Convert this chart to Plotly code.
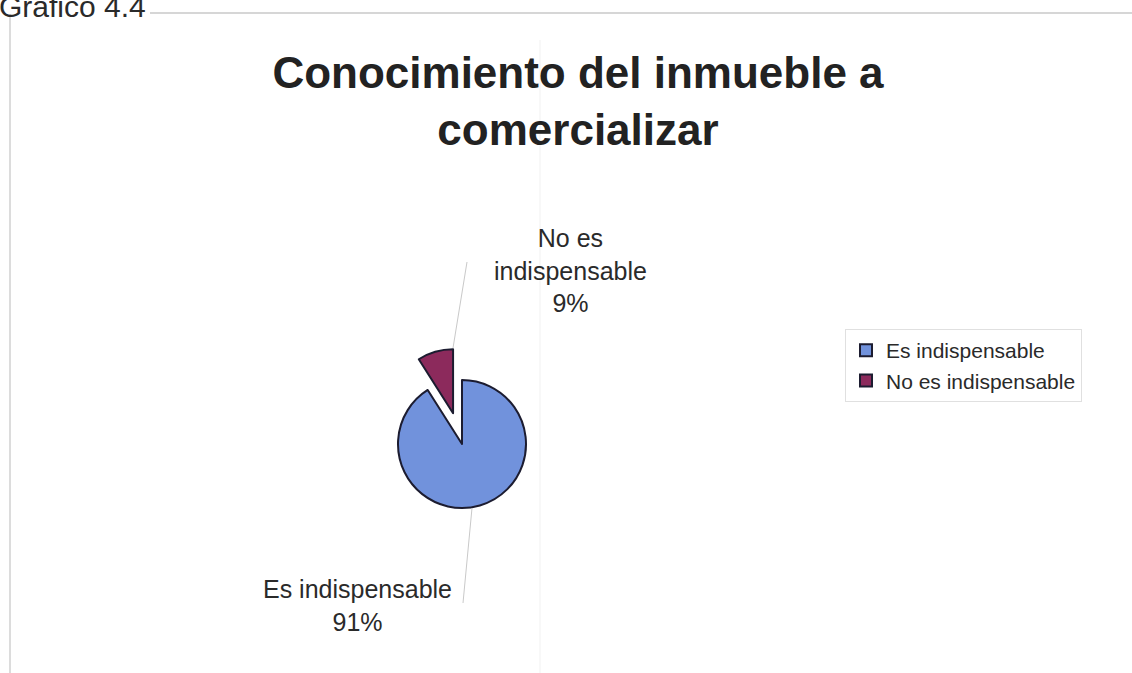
import textwrap
import plotly.graph_objects as go

# Survey result: knowledge of the property being marketed
labels = ["Es indispensable", "No es indispensable"]
values = [91, 9]
colors = ["#7192DC", "#8C2A5C"]
pulls = [0, 0.5]

title_lines = ["Conocimiento del inmueble a", "comercializar"]
caption = "Gráfico 4.4"

W, H = 1132, 673
FONT = "Liberation Sans, Arial, sans-serif"


def px(x):
    return x / W


def py(y):
    return 1 - y / H


fig = go.Figure()

# pie centred at (462, 444) px, radius 64 px; pull 0.5 -> domain half-size 96 px
cx, cy, half = 462, 444, 96
fig.add_trace(go.Pie(
    labels=labels,
    values=values,
    sort=False,
    direction="clockwise",
    rotation=0,
    pull=pulls,
    marker=dict(colors=colors, line=dict(color="#1c1c30", width=2)),
    textinfo="none",
    hoverinfo="label+percent",
    domain=dict(x=[px(cx - half), px(cx + half)], y=[py(cy + half), py(cy - half)]),
))

# slice labels with the percentage of each value
total = sum(values)
label_pos = [(357, 605), (570, 270)]
for lab, val, (lx, ly) in zip(labels, values, label_pos):
    txt = "<br>".join(textwrap.wrap(lab, 16)) + f"<br>{round(100 * val / total)}%"
    fig.add_annotation(
        x=px(lx), y=py(ly), xref="paper", yref="paper",
        text=txt, showarrow=False, xanchor="center", yanchor="middle",
        font=dict(family=FONT, size=25, color="#2a2a2a"),
    )

# leader lines from labels to slices
leaders = [((463, 603), (472, 508)), ((467, 262), (453, 348))]
for (x0, y0), (x1, y1) in leaders:
    fig.add_shape(type="line", xref="paper", yref="paper",
                  x0=px(x0), y0=py(y0), x1=px(x1), y1=py(y1),
                  line=dict(color="#c9c9c9", width=1))

# page frame lines
fig.add_shape(type="line", xref="paper", yref="paper",
              x0=px(150), y0=py(13), x1=px(W), y1=py(13),
              line=dict(color="#d6d6d6", width=2))
fig.add_shape(type="line", xref="paper", yref="paper",
              x0=px(10), y0=py(14), x1=px(10), y1=py(H),
              line=dict(color="#dcdcdc", width=2))
fig.add_shape(type="line", xref="paper", yref="paper",
              x0=px(540), y0=py(40), x1=px(540), y1=py(H),
              line=dict(color="#f1f1f1", width=1))

# caption at the top-left corner
fig.add_annotation(
    x=px(-3), y=py(25), xref="paper", yref="paper",
    text=caption, showarrow=False, xanchor="left", yanchor="bottom",
    font=dict(family=FONT, size=30, color="#2a2a2a"),
)

fig.update_layout(
    width=W, height=H,
    margin=dict(l=0, r=0, t=0, b=0),
    paper_bgcolor="white",
    plot_bgcolor="white",
    title=dict(
        text="<br>".join(title_lines),
        x=px(578), xanchor="center",
        y=py(88), yanchor="top", yref="container",
        font=dict(family=FONT, size=44, color="#222222", weight="bold"),
    ),
    legend=dict(
        x=px(845), y=py(329), xanchor="left", yanchor="top",
        bordercolor="#e0e0e0", borderwidth=1,
        font=dict(family=FONT, size=21, color="#2a2a2a"),
    ),
    showlegend=True,
)

fig.write_html("out.html")
